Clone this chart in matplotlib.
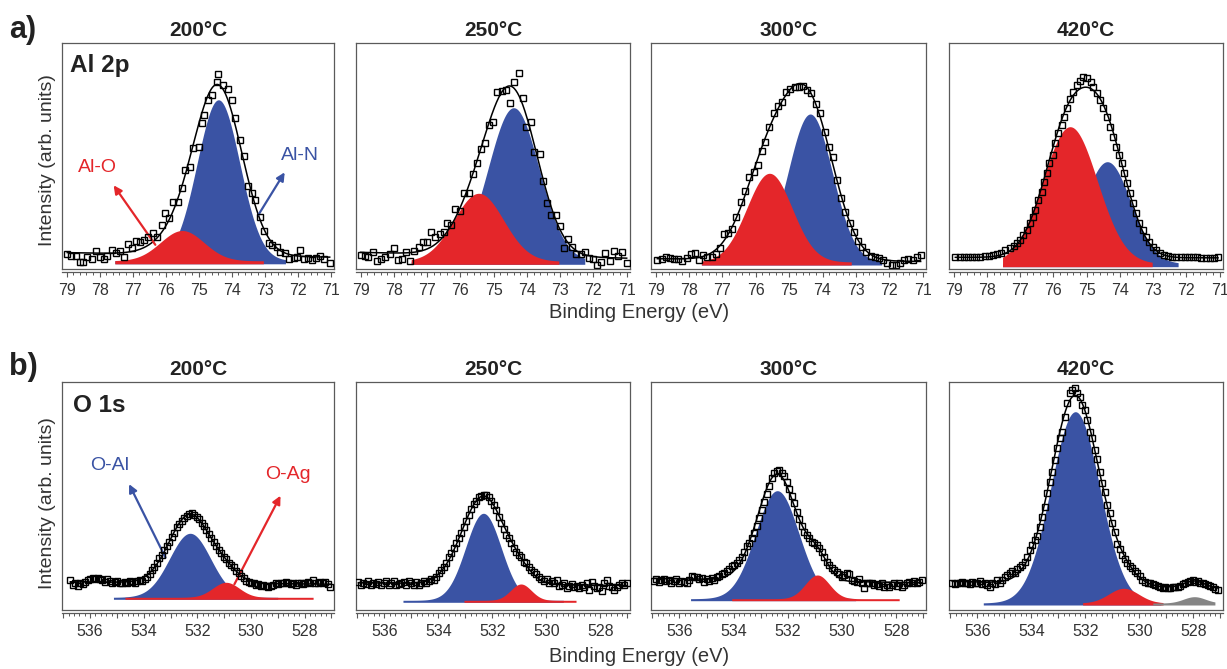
import numpy as np
import matplotlib.pyplot as plt
from matplotlib.ticker import MultipleLocator, FuncFormatter

plt.rcParams['font.family'] = ['Liberation Sans', 'DejaVu Sans']

RED = '#E4262A'
BLUE = '#3A53A4'
GRAY = '#858585'
FRAME = '#5a5a5a'
TEXT = '#333333'

temps = ['200°C', '250°C', '300°C', '420°C']

# ---- Al 2p spectra (binding energy, intensity) ----
al_e_200 = [78.98, 78.86, 78.73, 78.6, 78.5, 78.37, 78.23, 78.1, 78.0, 77.87, 77.78, 77.62, 77.51,
            77.39, 77.27, 77.14, 77.03, 76.9, 76.78, 76.66, 76.53, 76.38, 76.27, 76.1, 76.02, 75.89,
            75.77, 75.64, 75.51, 75.41, 75.26, 75.16, 75.0, 74.91, 74.84, 74.71, 74.6, 74.45, 74.4,
            74.25, 74.12, 74.0, 73.9, 73.76, 73.64, 73.52, 73.39, 73.28, 73.13, 73.01, 72.88, 72.77,
            72.63, 72.53, 72.37, 72.27, 72.12, 72.02, 71.92, 71.82, 71.68, 71.56, 71.44, 71.31, 71.21,
            71.03]
al_i_200 = [14.2, 12.5, 12.5, 6.8, 6.8, 11.2, 9.5, 17.8, 11.2, 9.2, 12.5, 18.5, 15.8, 17.8, 11.8,
            24.2, 20.2, 27.8, 26.5, 28.5, 31.2, 35.2, 31.2, 43.5, 55.2, 50.2, 66.8, 66.8, 80.2, 98.5,
            101.8, 120.2, 121.8, 145.8, 153.5, 168.5, 173.5, 186.8, 194.5, 183.5, 179.2, 168.5, 150.2,
            128.5, 112.5, 82.5, 75.2, 68.5, 51.8, 37.8, 25.2, 23.5, 21.8, 16.8, 15.2, 9.5, 10.2, 11.8,
            18.5, 9.2, 10.2, 8.5, 10.2, 12.5, 9.2, 5.2]

al_e_250 = [79.0, 78.87, 78.77, 78.64, 78.52, 78.39, 78.26, 78.13, 78.01, 77.89, 77.76, 77.63, 77.51,
            77.39, 77.26, 77.12, 77.0, 76.88, 76.75, 76.62, 76.5, 76.4, 76.28, 76.15, 76.02, 75.9,
            75.75, 75.62, 75.51, 75.39, 75.27, 75.14, 75.01, 74.89, 74.76, 74.63, 74.51, 74.4, 74.25,
            74.13, 74.02, 73.88, 73.78, 73.62, 73.52, 73.39, 73.27, 73.14, 73.02, 72.89, 72.77, 72.65,
            72.51, 72.38, 72.26, 72.14, 72.01, 71.89, 71.76, 71.64, 71.51, 71.37, 71.25, 71.13, 71.0]
al_i_250 = [13.5, 12.8, 11.8, 16.8, 7.8, 9.2, 11.2, 14.5, 20.2, 8.5, 9.2, 16.8, 7.5, 17.8, 21.8,
            26.2, 26.8, 36.8, 31.8, 34.5, 36.8, 45.2, 43.5, 59.2, 57.8, 75.2, 75.2, 94.5, 105.8, 119.2,
            125.8, 143.5, 146.8, 176.2, 177.5, 178.5, 165.2, 186.2, 195.8, 170.2, 141.8, 146.8, 116.2,
            114.5, 87.8, 65.8, 53.5, 53.5, 42.5, 20.2, 29.2, 21.8, 14.5, 14.5, 16.8, 10.2, 9.2, 3.5,
            6.8, 15.8, 7.8, 17.5, 12.8, 16.8, 5.2]

al_e_300 = [78.95, 78.82, 78.7, 78.57, 78.45, 78.32, 78.2, 78.07, 77.95, 77.82, 77.7, 77.57, 77.45,
            77.32, 77.2, 77.07, 76.95, 76.82, 76.7, 76.58, 76.44, 76.31, 76.19, 76.06, 75.94, 75.82,
            75.71, 75.59, 75.46, 75.34, 75.21, 75.09, 74.97, 74.84, 74.71, 74.59, 74.47, 74.34, 74.19,
            74.09, 73.94, 73.82, 73.69, 73.57, 73.44, 73.32, 73.19, 73.06, 72.94, 72.81, 72.69, 72.56,
            72.43, 72.31, 72.18, 72.06, 71.93, 71.81, 71.68, 71.56, 71.43, 71.3, 71.18, 71.06]
al_i_300 = [8.5, 9.2, 11.2, 10.2, 9.2, 9.8, 7.8, 10.2, 14.5, 15.8, 8.5, 13.5, 11.8, 11.8, 14.5, 20.2,
            34.5, 35.2, 39.2, 51.8, 66.8, 77.8, 91.8, 96.8, 103.5, 117.8, 126.8, 141.2, 155.8, 162.5,
            166.8, 176.8, 179.2, 181.2, 181.8, 182.5, 178.5, 175.2, 164.5, 155.8, 136.8, 121.2, 111.2,
            88.5, 70.2, 56.8, 45.2, 36.8, 27.8, 21.2, 16.8, 12.5, 11.8, 10.2, 8.5, 5.2, 3.5, 3.5, 5.2,
            8.5, 9.2, 8.5, 11.8, 13.5]

al_e_420 = [78.95, 78.82, 78.7, 78.57, 78.45, 78.32, 78.2, 78.07, 77.95, 77.82, 77.7, 77.57, 77.45,
            77.32, 77.2, 77.1, 77.0, 76.9, 76.8, 76.7, 76.62, 76.55, 76.45, 76.35, 76.28, 76.2, 76.12,
            76.02, 75.95, 75.85, 75.75, 75.68, 75.6, 75.5, 75.4, 75.3, 75.2, 75.1, 75.0, 74.88, 74.8,
            74.7, 74.6, 74.5, 74.4, 74.3, 74.2, 74.12, 74.02, 73.95, 73.88, 73.78, 73.7, 73.62, 73.52,
            73.42, 73.32, 73.22, 73.12, 73.02, 72.92, 72.8, 72.68, 72.55, 72.42, 72.3, 72.17, 72.05,
            71.92, 71.8, 71.67, 71.55, 71.42, 71.3, 71.17, 71.05]
al_i_420 = [11.2, 11.2, 11.2, 11.8, 11.8, 11.8, 11.8, 12.5, 12.5, 13.5, 14.5, 15.8, 18.5, 20.2, 22.5,
            25.8, 28.5, 33.5, 38.5, 45.2, 51.8, 58.5, 68.5, 76.8, 86.8, 95.2, 105.2, 113.5, 125.2,
            135.2, 143.5, 151.8, 160.2, 169.2, 176.8, 183.5, 187.8, 191.2, 190.2, 186.8, 181.2, 175.2,
            168.5, 160.2, 151.2, 141.8, 131.8, 121.8, 113.5, 105.2, 95.2, 85.2, 75.2, 65.2, 55.2, 45.8,
            38.5, 31.8, 26.8, 21.8, 18.5, 15.8, 13.5, 12.5, 11.8, 11.2, 11.2, 11.2, 11.2, 11.2, 11.2,
            10.5, 10.5, 10.5, 10.5, 11.2]

# ---- O 1s spectra: constant energy step between first and last point ----
o_span_200 = (536.74, 527.04)
o_i_200 = [30.0, 25.0, 26.7, 24.0, 26.7, 26.0, 28.3, 30.0, 30.7, 31.7, 30.7, 31.7, 30.7, 30.0, 28.3,
           30.7, 29.3, 26.7, 28.3, 29.3, 26.7, 27.3, 28.3, 27.3, 29.0, 28.3, 26.7, 29.3, 30.0, 29.3,
           30.7, 33.3, 36.0, 40.0, 43.3, 47.3, 51.7, 55.0, 60.0, 64.0, 68.3, 73.3, 77.3, 82.7, 86.0,
           89.3, 92.3, 94.0, 96.0, 96.7, 95.0, 93.3, 90.7, 87.3, 84.0, 80.0, 76.0, 71.7, 68.3, 64.0,
           60.0, 56.7, 53.3, 50.7, 47.3, 45.0, 42.7, 39.3, 36.7, 34.0, 31.7, 29.3, 28.3, 27.3, 26.7,
           25.0, 25.7, 24.0, 25.0, 24.0, 23.3, 24.3, 25.0, 26.7, 26.0, 27.3, 26.7, 28.3, 26.7, 25.7,
           26.7, 25.0, 26.7, 27.3, 26.0, 26.7, 28.3, 26.7, 30.0, 27.3, 26.7, 28.3, 26.7, 28.3, 26.0,
           23.3]

o_span_250 = (536.96, 527.02)
o_i_250 = [28.3, 25.0, 26.7, 26.0, 29.3, 25.0, 27.3, 26.0, 28.3, 25.0, 26.7, 29.3, 25.0, 27.3, 29.3,
           25.0, 26.0, 27.3, 28.3, 25.0, 29.3, 26.7, 25.0, 28.3, 25.0, 26.7, 29.3, 27.3, 29.3, 30.7,
           30.0, 32.7, 36.7, 40.0, 43.3, 47.3, 52.7, 57.3, 61.7, 66.7, 71.7, 77.3, 83.3, 89.3, 95.0,
           100.7, 106.0, 109.3, 112.7, 114.0, 115.3, 115.0, 112.7, 109.3, 105.0, 100.0, 93.3, 87.3,
           80.7, 75.0, 71.7, 66.7, 61.7, 58.3, 55.0, 52.7, 48.3, 46.7, 43.3, 40.0, 38.3, 36.0, 33.3,
           30.7, 29.3, 30.7, 27.3, 29.3, 26.7, 30.0, 24.0, 25.0, 26.7, 21.7, 24.0, 26.0, 23.3, 24.0,
           21.7, 25.0, 22.7, 26.7, 20.0, 28.3, 24.0, 21.7, 23.3, 19.3, 26.7, 30.0, 24.0, 22.7, 20.0,
           23.3, 25.0, 27.3, 25.0, 26.7]

o_span_300 = (536.94, 527.06)
o_i_300 = [29.3, 30.7, 28.3, 30.0, 30.7, 29.3, 30.0, 27.3, 29.3, 30.7, 26.7, 29.3, 28.3, 27.3, 30.0,
           34.0, 32.7, 33.3, 30.7, 31.7, 28.3, 30.7, 29.3, 31.7, 30.0, 32.7, 34.0, 36.0, 37.3, 39.3,
           40.7, 44.0, 45.0, 47.3, 50.0, 53.3, 58.3, 64.0, 67.3, 71.7, 76.7, 84.0, 91.7, 100.0, 108.3,
           116.0, 124.0, 131.7, 137.3, 139.3, 140.0, 137.3, 134.0, 128.3, 120.7, 114.0, 106.7, 98.3,
           90.7, 84.0, 78.3, 75.0, 71.7, 68.3, 66.7, 65.0, 61.7, 58.3, 53.3, 48.3, 45.0, 41.7, 40.0,
           38.3, 36.0, 32.7, 35.0, 36.7, 36.0, 30.0, 29.3, 28.3, 30.7, 26.7, 21.7, 26.7, 27.3, 26.7,
           25.0, 26.0, 24.0, 26.7, 23.3, 25.0, 22.7, 25.0, 26.7, 24.0, 27.3, 23.3, 25.0, 26.7, 28.3,
           27.3, 29.3, 27.3, 28.3, 30.0]

o_span_420 = (536.93, 527.10)
o_i_420 = [26.7, 26.0, 27.3, 26.7, 28.3, 26.7, 27.3, 26.0, 28.3, 26.7, 27.3, 29.3, 26.0, 27.3, 25.0,
           23.3, 27.3, 26.0, 30.0, 27.3, 30.0, 32.7, 35.0, 36.7, 39.3, 36.7, 40.7, 42.7, 45.0, 48.3,
           53.3, 60.0, 65.0, 70.0, 74.0, 83.3, 93.3, 103.3, 116.7, 128.3, 138.3, 150.0, 161.7, 171.7,
           178.3, 193.3, 206.7, 216.7, 220.0, 221.7, 217.3, 213.3, 205.0, 200.0, 190.0, 178.3, 171.7,
           160.0, 150.7, 138.3, 126.7, 118.3, 105.0, 96.7, 86.7, 78.3, 66.0, 60.7, 55.0, 50.7, 46.7,
           44.0, 41.7, 39.3, 36.7, 34.0, 30.0, 28.3, 27.3, 26.7, 26.0, 25.0, 24.0, 23.3, 22.0, 22.7,
           21.7, 22.0, 22.7, 23.3, 22.7, 24.0, 26.0, 27.3, 28.3, 29.3, 30.0, 28.3, 29.3, 27.3, 26.7,
           26.0, 25.0, 24.0, 23.3, 20.7, 20.0]

# ---- fitted components: (centre eV, height, FWHM eV, from eV, to eV, colour) ----
al_peaks = [
    [(74.40, 161.0, 1.52, 72.37, 77.54, BLUE), (75.50, 30.3, 1.55, 73.04, 77.54, RED)],
    [(74.40, 153.6, 1.80, 72.26, 77.48, BLUE), (75.45, 68.0, 1.76, 73.04, 77.48, RED)],
    [(74.37, 148.0, 1.56, 72.23, 77.63, BLUE), (75.59, 88.7, 1.60, 73.14, 77.63, RED)],
    [(74.38, 102.0, 1.66, 72.25, 77.53, BLUE), (75.50, 137.0, 1.93, 73.03, 77.53, RED)],
]
o_peaks = [
    [(532.27, 64.0, 1.80, 529.0, 535.13, BLUE), (530.93, 15.0, 1.16, 527.68, 534.70, RED)],
    [(532.33, 87.0, 1.55, 529.37, 535.31, BLUE), (530.94, 16.3, 0.90, 528.90, 533.05, RED)],
    [(532.39, 108.0, 1.88, 529.5, 535.59, BLUE), (530.91, 23.7, 1.05, 527.89, 534.07, RED)],
    [(532.37, 191.3, 2.13, 529.2, 535.78, BLUE), (530.58, 14.7, 1.30, 529.12, 532.10, RED),
     (527.96, 6.3, 0.95, 527.20, 529.50, GRAY)],
]
# floor of the filled components and lift of the filled curves above it
al_fills = [(4.7, 3.0), (4.2, 3.0), (3.5, 3.0), (1.8, 3.0)]
o_fills = [(10.7, 2.0), (7.7, 2.0), (9.3, 2.0), (5.0, 2.0)]

al_data = [(al_e_200, al_i_200), (al_e_250, al_i_250), (al_e_300, al_i_300), (al_e_420, al_i_420)]
o_data = []
for span, vals in [(o_span_200, o_i_200), (o_span_250, o_i_250), (o_span_300, o_i_300), (o_span_420, o_i_420)]:
    o_data.append((np.linspace(span[0], span[1], len(vals)), vals))


def gauss(e, c, h, w):
    return h * np.exp(-4 * np.log(2) * ((e - c) / w) ** 2)


def envelope(energy, inten, peaks, grid):
    """Least-squares fit of linear background + the component line shapes
    (amplitudes free, common width factor scanned) to the measured points."""
    inten = np.asarray(inten, dtype=float)
    x0 = energy.mean()
    best = None
    for f in np.linspace(0.9, 1.5, 31):
        cols = [np.ones_like(energy), energy - x0] + [gauss(energy, c, 1.0, w * f) for c, h, w, *_ in peaks]
        A = np.column_stack(cols)
        coef, *_ = np.linalg.lstsq(A, inten, rcond=None)
        res = np.sum((A @ coef - inten) ** 2)
        if best is None or res < best[0]:
            best = (res, f, coef)
    _, f, coef = best
    cols = [np.ones_like(grid), grid - x0] + [gauss(grid, c, 1.0, w * f) for c, h, w, *_ in peaks]
    return np.column_stack(cols) @ coef


def draw_panel(ax, energy, inten, peaks, fill, xlim, ymax, row):
    floor, lift = fill
    energy = np.asarray(energy, dtype=float)

    # filled components, later ones on top
    for c, h, w, lo, hi, col in peaks:
        eg = np.linspace(lo, hi, 300)
        ax.fill_between(eg, floor, floor + lift + gauss(eg, c, h, w), color=col, lw=0)

    grid = np.linspace(energy.min(), energy.max(), 500)
    ax.plot(grid, envelope(energy, inten, peaks, grid), color='black', lw=1.1, zorder=3)

    ax.plot(energy, inten, 's', ms=4.6, mfc='none', mec='black', mew=1.0, zorder=4)

    ax.set_xlim(*xlim)
    ax.set_ylim(0, ymax)
    ax.set_yticks([])
    for s in ax.spines.values():
        s.set_color(FRAME)
        s.set_linewidth(0.9)
    ax.spines['bottom'].set_position(('outward', 2.5))
    ax.plot([0, 1], [0, 0], transform=ax.transAxes, color=FRAME, lw=0.9, clip_on=False, zorder=5)

    ax.xaxis.set_major_locator(MultipleLocator(1))
    ax.xaxis.set_minor_locator(MultipleLocator(0.2))
    if row == 0:
        ax.xaxis.set_major_formatter(FuncFormatter(lambda v, p: '%d' % round(v)))
    else:
        ax.xaxis.set_major_formatter(FuncFormatter(lambda v, p: '%d' % round(v) if round(v) % 2 == 0 else ''))
    ax.tick_params(axis='x', which='major', length=3.8, width=0.8, color=FRAME,
                   labelsize=11.5, labelcolor=TEXT, pad=4)
    ax.tick_params(axis='x', which='minor', length=2.0, width=0.7, color=FRAME)


W, H = 1227, 669
fig = plt.figure(figsize=(W / 100, H / 100), dpi=100)

lefts = [62, 356, 651, 949]
widths = [272, 274, 275, 274]
rows = [(43, 268.5), (382, 610)]

axes = []
for r, (top, bottom) in enumerate(rows):
    row_axes = []
    for col in range(4):
        ax = fig.add_axes([lefts[col] / W, (H - bottom) / H, widths[col] / W, (bottom - top) / H])
        if r == 0:
            e, i = al_data[col]
            draw_panel(ax, e, i, al_peaks[col], al_fills[col], (79.14, 70.9), bottom - top, r)
        else:
            e, i = o_data[col]
            draw_panel(ax, e, i, o_peaks[col], o_fills[col], (537.05, 526.9), bottom - top, r)
        ax.set_title(temps[col], fontsize=15, fontweight='bold', pad=5, color='#222222')
        row_axes.append(ax)
    axes.append(row_axes)

# panel letters, axis titles
fig.text(23 / W, 1 - 30 / H, 'a)', fontsize=22, fontweight='bold', ha='center', va='center', color='#222222')
fig.text(23 / W, 1 - 367 / H, 'b)', fontsize=22, fontweight='bold', ha='center', va='center', color='#222222')
for yc in (160, 503):
    fig.text(47 / W, 1 - yc / H, 'Intensity (arb. units)', rotation=90, fontsize=14,
             ha='center', va='center', color=TEXT)
for yc in (313, 656):
    fig.text(639 / W, 1 - yc / H, 'Binding Energy (eV)', fontsize=14.5, ha='center', va='center', color=TEXT)

# core level names and peak assignments
a1, b1 = axes[0][0], axes[1][0]
a1.text(0.029, 0.902, 'Al 2p', transform=a1.transAxes, fontsize=17.5, fontweight='bold',
        ha='left', va='center', color='#222222')
b1.text(0.04, 0.899, 'O 1s', transform=b1.transAxes, fontsize=17.5, fontweight='bold',
        ha='left', va='center', color='#222222')

a1.text(0.132, 0.446, 'Al-O', transform=a1.transAxes, fontsize=14, color=RED, ha='center', va='center')
a1.annotate('', xy=(0.184, 0.379), xytext=(0.349, 0.095), xycoords='axes fraction',
            arrowprops=dict(arrowstyle='-|>', color=RED, lw=1.6, mutation_scale=12))
a1.text(0.875, 0.499, 'Al-N', transform=a1.transAxes, fontsize=14, color=BLUE, ha='center', va='center')
a1.annotate('', xy=(0.824, 0.437), xytext=(0.717, 0.228), xycoords='axes fraction',
            arrowprops=dict(arrowstyle='-|>', color=BLUE, lw=1.6, mutation_scale=12))

b1.text(0.176, 0.633, 'O-Al', transform=b1.transAxes, fontsize=14, color=BLUE, ha='center', va='center')
b1.annotate('', xy=(0.242, 0.563), xytext=(0.385, 0.219), xycoords='axes fraction',
            arrowprops=dict(arrowstyle='-|>', color=BLUE, lw=1.6, mutation_scale=12))
b1.text(0.831, 0.596, 'O-Ag', transform=b1.transAxes, fontsize=14, color=RED, ha='center', va='center')
b1.annotate('', xy=(0.808, 0.512), xytext=(0.629, 0.102), xycoords='axes fraction',
            arrowprops=dict(arrowstyle='-|>', color=RED, lw=1.6, mutation_scale=12))

fig.savefig('out.png', dpi=100)
